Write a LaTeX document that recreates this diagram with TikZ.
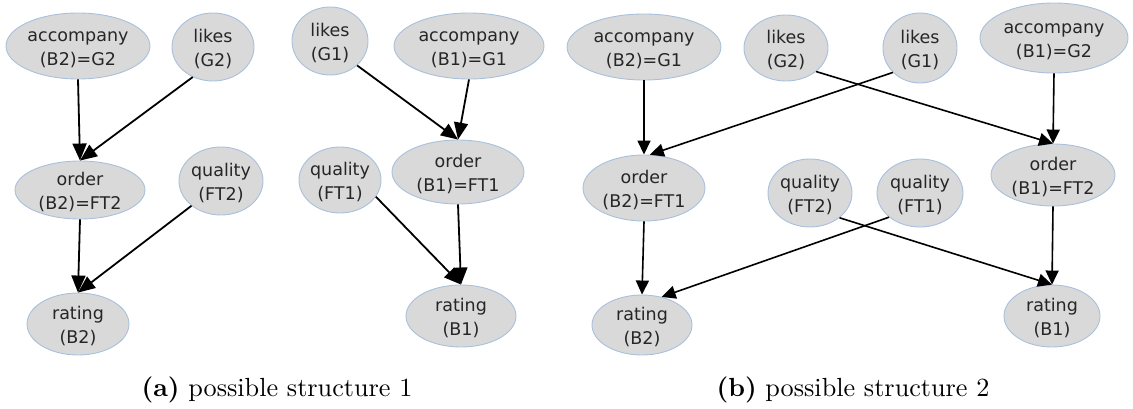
\documentclass[tikz,border=0pt]{standalone}
\usepackage{fontspec}
\usetikzlibrary{shapes.geometric,arrows.meta}
\newfontfamily\nodefont{DejaVu Sans}
\definecolor{nfill}{HTML}{D9D9D9}
\definecolor{nedge}{HTML}{A9C0DC}
\definecolor{ntext}{HTML}{262626}
\newcommand\twol[2]{\rule[-2pt]{0pt}{20pt}#1\\#2}
\tikzset{
  bn/.style 2 args={ellipse, fill=nfill, draw=nedge, line width=0.9pt, inner sep=-3pt,
    minimum width=#1pt, minimum height=#2pt, align=center, text=ntext,
    font=\nodefont\fontsize{17.5}{24}\selectfont},
  edge/.style={line width=1.8pt, -{Triangle[length=17pt,width=14pt]}},
  edgeb/.style={line width=1.6pt, -{Triangle[length=14pt,width=13pt]}},
  captext/.style={scale=2.62, anchor=base}
}
\begin{document}
\begin{tikzpicture}[x=1pt,y=-1pt]
\useasboundingbox (0,0) rectangle (1133,408);
% panel (a), left graph
\node[bn={144}{66}] (aA) at (78,46) {\twol{accompany}{(B2)=G2}};
\node[bn={82}{68}]  (aL) at (213,47) {\twol{likes}{(G2)}};
\node[bn={130}{58}] (aO) at (80,190) {\twol{order}{(B2)=FT2}};
\node[bn={84}{68}]  (aQ) at (221,181) {\twol{quality}{(FT2)}};
\node[bn={102}{62}] (aR) at (78,324) {\twol{rating}{(B2)}};
% panel (a), right graph
\node[bn={76}{68}]  (bL) at (330,41) {\twol{likes}{(G1)}};
\node[bn={150}{66}] (bA) at (469,46) {\twol{accompany}{(B1)=G1}};
\node[bn={132}{64}] (bO) at (458,172) {\twol{order}{(B1)=FT1}};
\node[bn={82}{66}]  (bQ) at (340,180) {\twol{quality}{(FT1)}};
\node[bn={110}{62}] (bR) at (461,316) {\twol{rating}{(B1)}};
% panel (b)
\node[bn={154}{66}] (cA) at (644,47) {\twol{accompany}{(B2)=G1}};
\node[bn={84}{66}]  (cL) at (786,48) {\twol{likes}{(G2)}};
\node[bn={122}{66}] (cO) at (644,188) {\twol{order}{(B2)=FT1}};
\node[bn={84}{68}]  (cQ) at (810,193) {\twol{quality}{(FT2)}};
\node[bn={100}{60}] (cR) at (642,325) {\twol{rating}{(B2)}};
\node[bn={74}{70}]  (dL) at (920,48) {\twol{likes}{(G1)}};
\node[bn={148}{70}] (dA) at (1054,38) {\twol{accompany}{(B1)=G2}};
\node[bn={124}{62}] (dO) at (1053,175) {\twol{order}{(B1)=FT2}};
\node[bn={86}{68}]  (dQ) at (920,193) {\twol{quality}{(FT1)}};
\node[bn={96}{62}]  (dR) at (1052,316) {\twol{rating}{(B1)}};
% edges (a)
\draw[edge] (aA.south) -- (aO.north);
\draw[edge] (aL.-124) -- (aO.north);
\draw[edge] (aO.south) -- (aR.north);
\draw[edge] (aQ.-140) -- (aR.north);
\draw[edge] (bL.-42) -- (bO.north);
\draw[edge] (bA.south) -- (bO.north);
\draw[edge] (bQ.-25) -- (bR.north);
\draw[edge] (bO.south) -- (bR.north);
% edges (b)
\draw[edgeb] (cA.south) -- (cO.north);
\draw[edgeb] (dL.-138) -- (cO.80);
\draw[edgeb] (cL.-38) -- (dO.north);
\draw[edgeb] (dA.south) -- (dO.north);
\draw[edgeb] (cO.south) -- (cR.north);
\draw[edgeb] (dQ.-142) -- (cR.55);
\draw[edgeb] (cQ.-40) -- (dR.north);
\draw[edgeb] (dO.south) -- (dR.north);
% captions
\node[captext] (capa) at (277,396) {\textbf{(a)} possible structure 1};
\node[captext] (capb) at (853,396) {\textbf{(b)} possible structure 2};
\end{tikzpicture}
\end{document}
